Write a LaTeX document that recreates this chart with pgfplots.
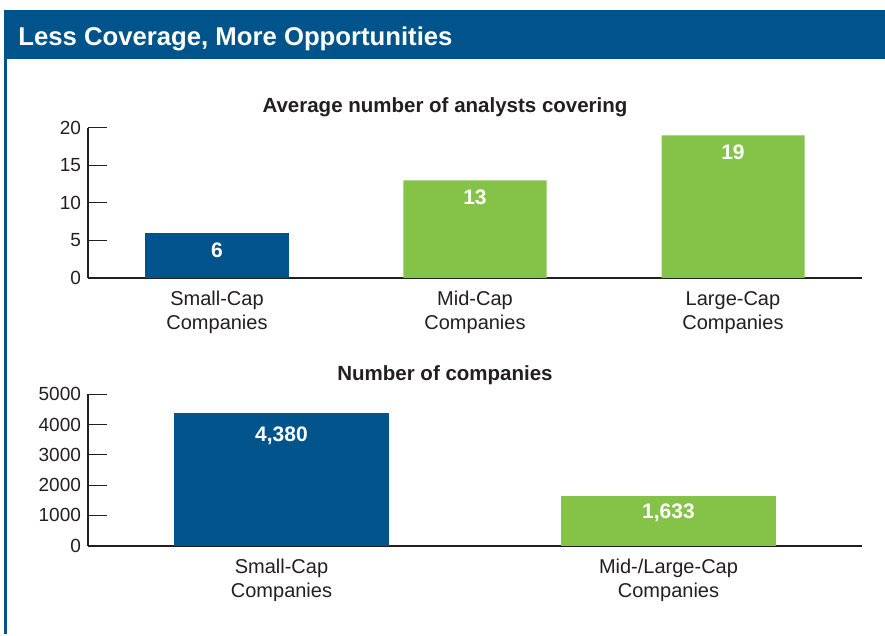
\documentclass[border=0pt]{standalone}
\usepackage{pgfplots}
\pgfplotsset{compat=1.18}
\usepackage{fontspec}
\setmainfont{Liberation Sans}
\definecolor{hblue}{RGB}{0,84,140}
\definecolor{bgreen}{RGB}{132,195,72}
\definecolor{axgray}{RGB}{35,31,32}
\begin{document}
\begin{tikzpicture}[x=0.5pt,y=0.5pt]
% page frame
\path[fill=white] (0,0) rectangle (885,634);
\fill[hblue] (4,634-10) rectangle (885,634-59);
\draw[hblue,line width=1.3pt] (5.3,0) -- (5.3,634-58);
\node[anchor=base west,inner sep=0,text=white,font=\fontsize{12.85}{15}\selectfont\bfseries] at (18,634-46) {Less Coverage, More Opportunities};
\node[anchor=base,inner sep=0,text=axgray,font=\fontsize{10.25}{12}\selectfont\bfseries] at (445,634-113) {Average number of analysts covering};
\node[anchor=base,inner sep=0,text=axgray,font=\fontsize{10.25}{12}\selectfont\bfseries] at (445,634-381) {Number of companies};

\pgfplotsset{
  myax/.style={
    scale only axis,
    anchor=south west,
    width=387pt,
    axis lines*=left,
    axis line style={line width=1pt,color=axgray},
    tick align=inside,
    major tick length=9.5pt,
    ytick style={line width=0.5pt,color=axgray},
    xtick style={draw=none},
    ymin=0,
    ybar,
    bar shift=0pt,
    clip=false,
    yticklabel style={font=\fontsize{9.5}{11}\selectfont,text=axgray,xshift=0pt},
    xticklabel style={font=\fontsize{10}{12}\selectfont,text=axgray,align=center,yshift=6.5pt},
    /pgf/number format/assume math mode=true,
    /pgf/number format/1000 sep={},
    nodes near coords style={text=white,font=\fontsize{10.5}{12}\selectfont\bfseries},
  }
}

% top axis
\begin{axis}[myax,
  at={(44pt,178pt)},
  height=75pt,
  xmin=-0.5,xmax=2.5,
  ymax=20, ytick={0,5,10,15,20},
  xtick={0,1,2},
  xticklabels={Small-Cap\\Companies,Mid-Cap\\Companies,Large-Cap\\Companies},
  bar width=71.5pt,
  nodes near coords,
  every node near coord/.append style={anchor=center,yshift=-8.5pt},
]
\addplot[fill=hblue,draw=none] coordinates {(0,6)};
\addplot[fill=bgreen,draw=none] coordinates {(1,13) (2,19)};
\end{axis}

% bottom axis
\begin{axis}[myax,
  at={(44pt,44.15pt)},
  height=75.75pt,
  xmin=-0.5,xmax=1.5,
  ymax=5000, ytick={0,1000,2000,3000,4000,5000},
  xtick={0,1},
  xticklabels={Small-Cap\\Companies,Mid-/Large-Cap\\Companies},
  bar width=107.5pt,
  nodes near coords={\pgfmathprintnumber[1000 sep={,}]{\pgfplotspointmeta}},
]
\addplot[fill=hblue,draw=none,every node near coord/.append style={anchor=center,yshift=-11.5pt}] coordinates {(0,4380)};
\addplot[fill=bgreen,draw=none,every node near coord/.append style={anchor=center,yshift=-8.5pt}] coordinates {(1,1633)};
\end{axis}
\end{tikzpicture}
\end{document}
